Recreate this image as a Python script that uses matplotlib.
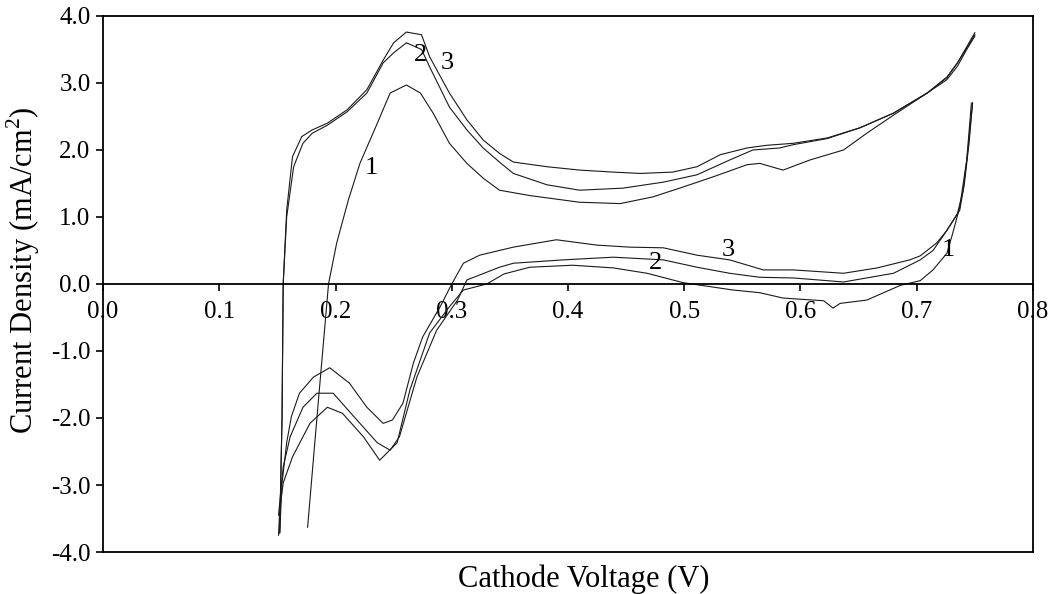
# Cyclic voltammetry, three cycles (1, 2, 3)
import matplotlib
matplotlib.use("Agg")
import matplotlib.pyplot as plt

plt.rcParams['font.family'] = ['Liberation Serif', 'DejaVu Serif']
plt.rcParams['mathtext.fontset'] = 'custom'
plt.rcParams['mathtext.rm'] = 'Liberation Serif'

# cycle 1 - anodic (upper) and cathodic (lower) branch
v1_up = [0.176, 0.185, 0.194, 0.201, 0.211, 0.221, 0.236, 0.247, 0.261, 0.273, 0.284, 0.298,
         0.313, 0.327, 0.341, 0.367, 0.41, 0.445, 0.473, 0.496, 0.525, 0.554, 0.565, 0.585,
         0.608, 0.637, 0.657, 0.68, 0.709, 0.726, 0.735, 0.743, 0.75]
i1_up = [-3.63, -1.8, 0.0, 0.61, 1.25, 1.8, 2.4, 2.85, 2.97, 2.85, 2.55, 2.1,
         1.8, 1.58, 1.4, 1.32, 1.22, 1.2, 1.3, 1.43, 1.6, 1.78, 1.8, 1.7,
         1.85, 2.0, 2.25, 2.52, 2.85, 3.05, 3.25, 3.5, 3.7]
v1_dn = [0.747, 0.743, 0.737, 0.731, 0.726, 0.714, 0.703, 0.686, 0.657, 0.634, 0.628, 0.62,
         0.585, 0.565, 0.542, 0.499, 0.468, 0.439, 0.404, 0.367, 0.345, 0.33, 0.31, 0.298,
         0.281, 0.264, 0.253, 0.238, 0.224, 0.206, 0.193, 0.178, 0.163, 0.155, 0.152, 0.151]
i1_dn = [2.7, 1.85, 1.15, 0.76, 0.46, 0.21, 0.05, -0.02, -0.24, -0.29, -0.36, -0.25,
         -0.21, -0.13, -0.09, 0.02, 0.16, 0.24, 0.28, 0.25, 0.15, 0.0, -0.09, -0.34,
         -0.73, -1.58, -2.37, -2.63, -2.28, -1.93, -1.84, -2.08, -2.58, -2.97, -3.37, -3.75]

# cycle 2
v2_up = [0.152, 0.154, 0.155, 0.158, 0.164, 0.172, 0.18, 0.193, 0.21, 0.227, 0.241, 0.25,
         0.261, 0.274, 0.281, 0.298, 0.313, 0.327, 0.341, 0.353, 0.382, 0.41, 0.447, 0.482,
         0.511, 0.539, 0.559, 0.582, 0.594, 0.623, 0.651, 0.68, 0.709, 0.726, 0.735, 0.743, 0.75]
i2_up = [-3.7, -2.0, 0.0, 1.0, 1.75, 2.1, 2.25, 2.37, 2.57, 2.85, 3.3, 3.45,
         3.6, 3.5, 3.24, 2.64, 2.3, 2.03, 1.82, 1.65, 1.48, 1.4, 1.43, 1.52,
         1.63, 1.85, 2.0, 2.03, 2.08, 2.17, 2.33, 2.55, 2.85, 3.08, 3.3, 3.52, 3.72]
v2_dn = [0.748, 0.744, 0.74, 0.735, 0.724, 0.714, 0.703, 0.68, 0.637, 0.594, 0.565, 0.539,
         0.511, 0.482, 0.439, 0.396, 0.353, 0.341, 0.313, 0.305, 0.287, 0.27, 0.255, 0.247,
         0.236, 0.221, 0.198, 0.184, 0.172, 0.161, 0.155, 0.152, 0.151]
i2_dn = [2.7, 2.0, 1.4, 1.05, 0.75, 0.5, 0.36, 0.16, 0.03, 0.09, 0.1, 0.16,
         0.25, 0.36, 0.4, 0.36, 0.31, 0.25, 0.06, -0.24, -0.69, -1.39, -2.28, -2.48,
         -2.37, -2.08, -1.63, -1.63, -1.84, -2.28, -2.73, -3.27, -3.45]

# cycle 3
v3_up = [0.152, 0.154, 0.155, 0.158, 0.163, 0.171, 0.18, 0.193, 0.21, 0.227, 0.241, 0.25,
         0.261, 0.274, 0.281, 0.298, 0.313, 0.327, 0.341, 0.353, 0.382, 0.41, 0.439, 0.462,
         0.49, 0.511, 0.531, 0.554, 0.571, 0.594, 0.623, 0.651, 0.68, 0.709, 0.726, 0.735,
         0.743, 0.75]
i3_up = [-3.7, -2.0, 0.0, 1.1, 1.9, 2.2, 2.3, 2.4, 2.6, 2.9, 3.34, 3.6,
         3.76, 3.72, 3.39, 2.85, 2.45, 2.15, 1.95, 1.82, 1.75, 1.7, 1.67, 1.65,
         1.67, 1.75, 1.93, 2.03, 2.07, 2.1, 2.18, 2.33, 2.55, 2.85, 3.09, 3.3,
         3.54, 3.75]
v3_dn = [0.748, 0.745, 0.741, 0.737, 0.726, 0.717, 0.703, 0.694, 0.666, 0.637, 0.594, 0.568,
         0.539, 0.511, 0.482, 0.453, 0.425, 0.39, 0.353, 0.324, 0.31, 0.3, 0.29, 0.275,
         0.267, 0.258, 0.249, 0.241, 0.227, 0.212, 0.195, 0.181, 0.169, 0.162, 0.158, 0.154,
         0.152]
i3_dn = [2.7, 2.1, 1.5, 1.1, 0.8, 0.61, 0.42, 0.36, 0.24, 0.16, 0.21, 0.21,
         0.36, 0.43, 0.54, 0.55, 0.58, 0.66, 0.55, 0.43, 0.31, 0.0, -0.34, -0.79,
         -1.18, -1.78, -2.03, -2.08, -1.84, -1.48, -1.25, -1.39, -1.63, -1.98, -2.37, -2.97,
         -3.72]

# etykiety cykli
lab_text = ["1", "2", "3", "2", "3", "1"]
lab_v = [0.2305, 0.2735, 0.296, 0.475, 0.5376, 0.727]
lab_i = [1.73, 3.42, 3.3, 0.31, 0.51, 0.51]

x_ticks = [0.0, 0.1, 0.2, 0.3, 0.4, 0.5, 0.6, 0.7, 0.8]
x_labels = ["0.0", "0.1", "0.2", "0.3", "0.4", "0.5", "0.6", "0.7", "0.8"]
y_ticks = [-4, -3, -2, -1, 0, 1, 2, 3, 4]
y_labels = ["-4.0", "-3.0", "-2.0", "-1.0", "0.0", "1.0", "2.0", "3.0", "4.0"]


def main():
    fig = plt.figure(figsize=(10.5, 5.94), dpi=100)
    ax = fig.add_axes([0.0981, 0.0707, 0.8857, 0.9024])

    lw = 0.8
    for v, i in [(v1_up, i1_up), (v1_dn, i1_dn), (v2_up, i2_up), (v2_dn, i2_dn),
                 (v3_up, i3_up), (v3_dn, i3_dn)]:
        ax.plot(v, i, color='#1a1a1a', lw=lw)

    for t, v, i in zip(lab_text, lab_v, lab_i):
        ax.text(v, i, t, fontsize=19, ha='center', va='center')

    ax.set_xlim(0, 0.8)
    ax.set_ylim(-4, 4)

    # os X przechodzi przez zero
    ax.spines['bottom'].set_position(('data', 0))
    for s in ax.spines.values():
        s.set_linewidth(1.3)
    ax.axhline(-4, color='black', lw=1.3, clip_on=False)

    ax.set_xticks(x_ticks)
    ax.set_xticklabels(x_labels)
    ax.set_yticks(y_ticks)
    ax.set_yticklabels(y_labels)
    ax.tick_params(axis='x', direction='out', length=5, width=1.2, labelsize=18, pad=7)
    ax.tick_params(axis='y', direction='out', length=5, width=1.2, labelsize=18, pad=4)

    ax.set_xlabel("Cathode Voltage (V)", fontsize=22)
    ax.xaxis.set_label_coords(0.517, -0.024)
    ax.set_ylabel("Current Density (mA/cm$^{2}$)", fontsize=22)
    ax.yaxis.set_label_coords(-0.0656, 0.526)

    fig.savefig("out.png", dpi=100)


main()
